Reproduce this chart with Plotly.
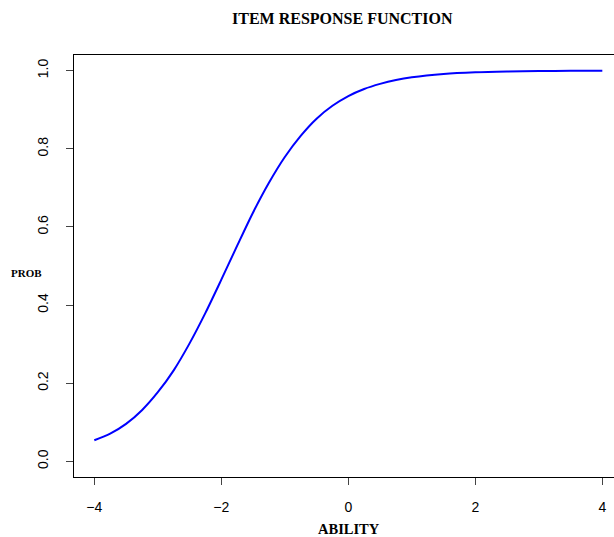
import plotly.graph_objects as go

# Values
ability = [-4, -3.75, -3.5, -3.25, -3, -2.75, -2.5, -2.25, -2, -1.75, -1.5, -1.25,
           -1, -0.75, -0.5, -0.25, 0, 0.25, 0.5, 0.75, 1, 1.5, 2, 2.5, 3, 3.5, 4]
prob = [0.054, 0.071, 0.096, 0.131, 0.177, 0.233, 0.302, 0.380, 0.465, 0.552, 0.637, 0.713,
        0.779, 0.833, 0.877, 0.910, 0.935, 0.953, 0.966, 0.976, 0.983, 0.9915, 0.9958,
        0.9979, 0.999, 0.9995, 0.9997]

x_ticks = [-4, -2, 0, 2, 4]
y_ticks = [0.0, 0.2, 0.4, 0.6, 0.8, 1.0]
y_tick_text = ["0.0", "0.2", "0.4", "0.6", "0.8", "1.0"]

fig = go.Figure()
fig.add_trace(go.Scatter(x=ability, y=prob, mode="lines",
                         line=dict(color="#0000FF", width=2, shape="spline", smoothing=0.8),
                         hoverinfo="skip", showlegend=False))

tickfont = dict(family="Liberation Sans, Arial, sans-serif", size=14, color="black")
serif = "Liberation Serif, Times New Roman, serif"

fig.update_layout(
    width=614, height=537,
    margin=dict(l=74, r=0, t=55, b=60),
    paper_bgcolor="white", plot_bgcolor="white",
    xaxis=dict(range=[-4.32, 4.184], tickvals=x_ticks, ticks="outside", ticklen=7,
               tickcolor="#444", tickwidth=1, showline=True, linecolor="black", linewidth=1,
               mirror=True, showgrid=False, zeroline=False, tickfont=tickfont,
               ticklabelstandoff=10),
    yaxis=dict(range=[-0.04, 1.04], tickvals=y_ticks, ticktext=y_tick_text, ticks="outside",
               ticklen=7, tickcolor="#444", tickwidth=1, showline=True, linecolor="black",
               linewidth=1, mirror=False, showgrid=False, zeroline=False, tickfont=tickfont,
               tickangle=-90, ticklabelstandoff=12),
    annotations=[
        dict(text="<b>ITEM RESPONSE FUNCTION</b>", xref="paper", yref="paper",
             x=(342 - 74) / 540, y=1, yshift=37, xanchor="center", yanchor="middle",
             showarrow=False, font=dict(family=serif, size=16, color="black")),
        dict(text="<b>ABILITY</b>", xref="paper", yref="paper",
             x=(349 - 74) / 540, y=0, yshift=-52, xanchor="center", yanchor="middle",
             showarrow=False, font=dict(family=serif, size=14.5, color="black")),
        dict(text="<b>PROB</b>", xref="paper", yref="paper",
             x=0, xshift=-48, y=(477 - 273) / 422, xanchor="center", yanchor="middle",
             showarrow=False, font=dict(family=serif, size=11, color="black")),
    ],
)

fig.write_html("out.html")
